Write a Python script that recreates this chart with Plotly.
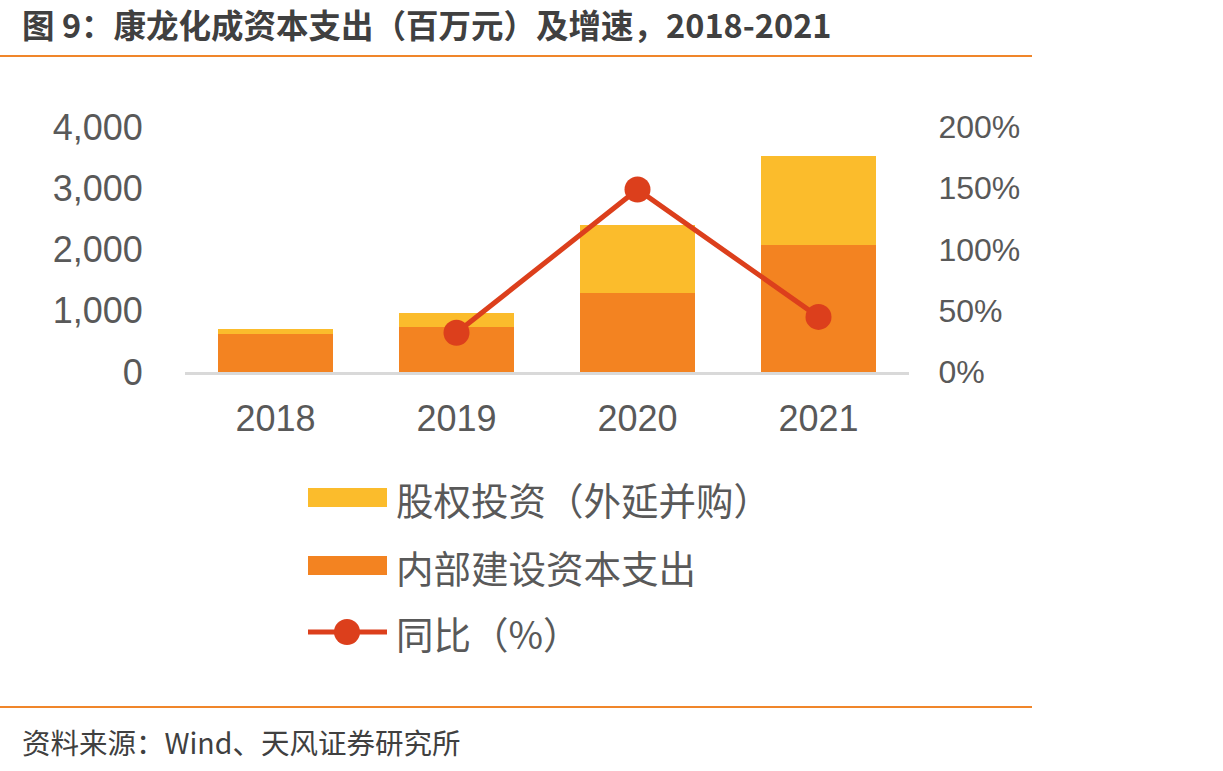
import plotly.graph_objects as go

years = ["2018", "2019", "2020", "2021"]
internal_capex = [620, 735, 1290, 2070]          # 内部建设资本支出
equity_invest = [90, 225, 1115, 1450]            # 股权投资（外延并购）
yoy_growth = [None, 32, 149, 45]                 # 同比（%）

left_ticks = [0, 1000, 2000, 3000, 4000]
left_tick_text = ["0", "1,000", "2,000", "3,000", "4,000"]
right_ticks = [0, 50, 100, 150, 200]
right_tick_text = ["0%", "50%", "100%", "150%", "200%"]

title_text = "图 9：康龙化成资本支出（百万元）及增速，2018-2021"
source_text = "资料来源：Wind、天风证券研究所"
legend_names = ["股权投资（外延并购）", "内部建设资本支出", "同比（%）"]

C_YELLOW = "#FBBC2C"
C_ORANGE = "#F38321"
C_RED = "#DC3F1C"
C_TEXT = "#595959"
C_RULE = "#F0862A"

W, H = 1223, 771
L, R, T, B = 185, 909, 127, 372


def px(x):
    return (x - L) / (R - L)


def py(y):
    return (B - y) / (B - T)


fig = go.Figure()
fig.add_trace(go.Bar(x=years, y=internal_capex, name=legend_names[1],
                     marker=dict(color=C_ORANGE, line=dict(width=0))))
fig.add_trace(go.Bar(x=years, y=equity_invest, name=legend_names[0],
                     marker=dict(color=C_YELLOW, line=dict(width=0))))
fig.add_trace(go.Scatter(x=years, y=yoy_growth, name=legend_names[2], yaxis="y2",
                         mode="lines+markers", connectgaps=False,
                         line=dict(color=C_RED, width=5),
                         marker=dict(color=C_RED, size=26)))

shapes = [
    dict(type="line", xref="paper", yref="paper", x0=px(0), x1=px(1032), y0=py(56), y1=py(56),
         line=dict(color=C_RULE, width=2)),
    dict(type="line", xref="paper", yref="paper", x0=px(0), x1=px(1032), y0=py(707), y1=py(707),
         line=dict(color=C_RULE, width=2)),
    # legend swatches
    dict(type="rect", xref="paper", yref="paper", x0=px(308), x1=px(387), y0=py(507), y1=py(488),
         fillcolor=C_YELLOW, line=dict(width=0)),
    dict(type="rect", xref="paper", yref="paper", x0=px(308), x1=px(387), y0=py(575), y1=py(556),
         fillcolor=C_ORANGE, line=dict(width=0)),
    dict(type="line", xref="paper", yref="paper", x0=px(308), x1=px(387), y0=py(632), y1=py(632),
         line=dict(color=C_RED, width=5)),
    dict(type="circle", xref="paper", yref="paper", x0=px(334), x1=px(360), y0=py(645), y1=py(619),
         fillcolor=C_RED, line=dict(width=0)),
]

ann_font = dict(family="Noto Sans CJK SC", size=37.5, color=C_TEXT)
annotations = [
    dict(text="<b>" + title_text + "</b>", xref="paper", yref="paper", x=px(20), y=py(23),
         xanchor="left", yanchor="middle", showarrow=False,
         font=dict(family="Noto Sans CJK SC", size=32.5, color="#404040")),
    dict(text=source_text, xref="paper", yref="paper", x=px(20), y=py(741),
         xanchor="left", yanchor="middle", showarrow=False,
         font=dict(family="Noto Sans CJK SC", size=28.5, color="#404040")),
    dict(text=legend_names[0], xref="paper", yref="paper", x=px(394), y=py(498),
         xanchor="left", yanchor="middle", showarrow=False, font=ann_font),
    dict(text=legend_names[1], xref="paper", yref="paper", x=px(394), y=py(566),
         xanchor="left", yanchor="middle", showarrow=False, font=ann_font),
    dict(text=legend_names[2], xref="paper", yref="paper", x=px(394), y=py(632),
         xanchor="left", yanchor="middle", showarrow=False, font=ann_font),
]

fig.update_layout(
    width=W, height=H,
    margin=dict(l=L, r=W - R, t=T, b=H - B, pad=0),
    paper_bgcolor="white", plot_bgcolor="white",
    barmode="stack", bargap=0.37,
    showlegend=False,
    xaxis=dict(showgrid=False, showline=True, linecolor="#D9D9D9", linewidth=3,
               ticks="outside", ticklen=13, tickcolor="rgba(0,0,0,0)",
               tickfont=dict(family="Liberation Sans, Arial", size=36, color=C_TEXT)),
    yaxis=dict(range=[0, 4000], tickvals=left_ticks, ticktext=left_tick_text,
               showgrid=False, zeroline=False, showline=False,
               ticks="outside", ticklen=34, tickcolor="rgba(0,0,0,0)",
               tickfont=dict(family="Liberation Sans, Arial", size=36, color=C_TEXT)),
    yaxis2=dict(range=[0, 200], tickvals=right_ticks, ticktext=right_tick_text,
                overlaying="y", side="right", showgrid=False, zeroline=False, showline=False,
                ticks="outside", ticklen=22, tickcolor="rgba(0,0,0,0)",
                tickfont=dict(family="Liberation Sans, Arial", size=32, color=C_TEXT)),
    shapes=shapes,
    annotations=annotations,
)

fig.write_html("out.html")
